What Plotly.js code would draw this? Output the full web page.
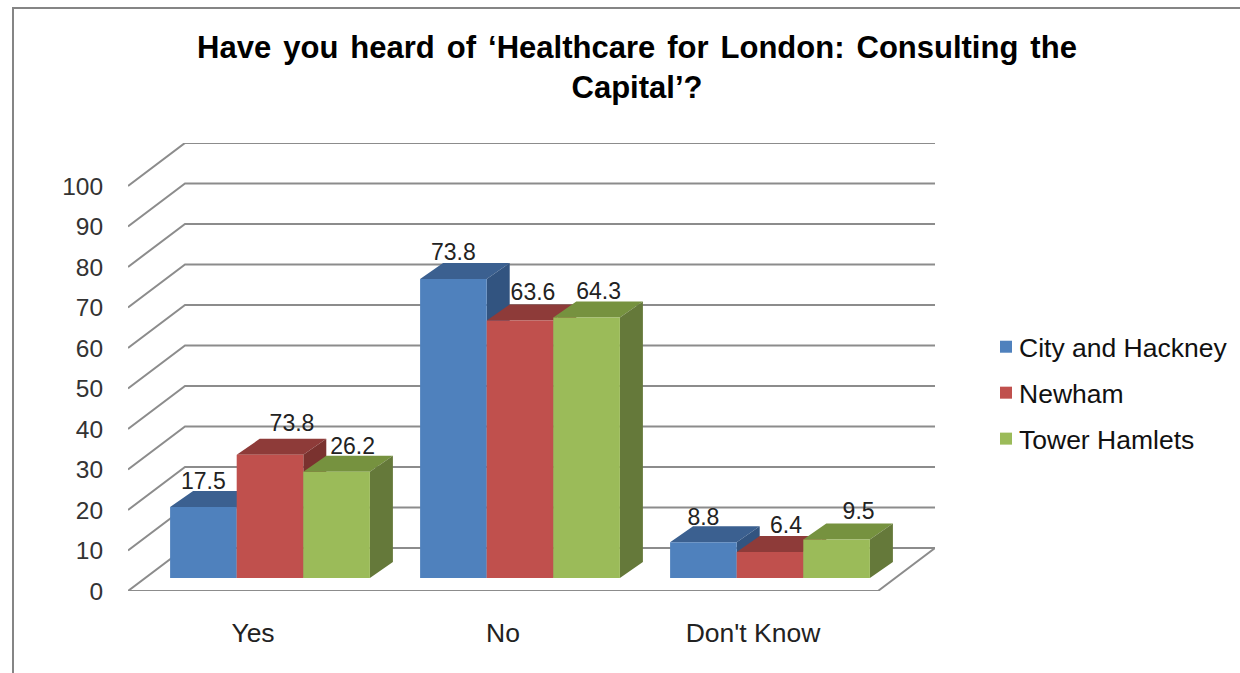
<!DOCTYPE html>
<html><head><meta charset="utf-8">
<script src="https://cdn.plot.ly/plotly-3.0.1.min.js"></script>
<style>html,body{margin:0;padding:0;background:#fff}#c{width:1240px;height:673px}
.gtitle{word-spacing:3.4px}
.legend .legendtext{transform:translateX(-7px)}
</style>
</head><body><div id="c"></div>
<script>
const categories = ["Yes", "No", "Don't Know"];
const seriesNames = ["City and Hackney", "Newham", "Tower Hamlets"];
const cityHackney = [17.5, 73.8, 8.8];
const newham = [30.4, 63.6, 6.4];
const towerHamlets = [26.2, 64.3, 9.5];
const cityLabels = ["17.5", "73.8", "8.8"];
const newhamLabels = ["73.8", "63.6", "6.4"];
const towerLabels = ["26.2", "64.3", "9.5"];
const yTicks = [0, 10, 20, 30, 40, 50, 60, 70, 80, 90, 100];

const frontColors = ["#4F81BD", "#C0504D", "#9BBB59"];
const topColors = ["#3B6090", "#8E3B39", "#76923F"];
const sideColors = ["#325480", "#7A322F", "#65793A"];

// geometry of the false-3D box, in axis units
const pxX = 1 / 250, pxY = 1 / 4.05;
const xRange = [-0.5, 2.728], yRange = [0, 110.6];
const wallDx = 57 * pxX, wallDy = 43 * pxY;
const barBase = 13 * pxY, barDx = 23 * pxX, barDy = 16 * pxY;
const barW = 66.6 * pxX, barShift = 17 * pxX;
const nudgeX = [[0, 0, 0], [22, 13, 16], [16, 12, 22]];
const nudgeY = [[26, 27, 26], [32, 29, 27], [26, 27, 29]];

const series = [cityHackney, newham, towerHamlets];
const labels = [cityLabels, newhamLabels, towerLabels];
const barX = (c, s) => c + barShift + (s - 1) * barW;
const traces = [];

// back wall and floor lines
const gx = [], gy = [];
yTicks.forEach(v => {
  gx.push(xRange[0], xRange[0] + wallDx, xRange[1], null);
  gy.push(v, v + wallDy, v + wallDy, null);
});
gx.push(xRange[0], 2.5, xRange[1], null);
gy.push(0, 0, wallDy, null);
traces.push({x: gx, y: gy, mode: "lines", line: {color: "#8C8C8C", width: 2}, hoverinfo: "skip", showlegend: false});

// top and side faces, left to right
series.forEach((vals, s) => {
  const tx = [], ty = [], sx = [], sy = [];
  vals.forEach((v, c) => {
    const l = barX(c, s) - barW / 2, r = barX(c, s) + barW / 2, t = barBase + v;
    tx.push(l, r, r + barDx, l + barDx, null);
    ty.push(t, t, t + barDy, t + barDy, null);
    sx.push(r, r + barDx, r + barDx, r, null);
    sy.push(t, t + barDy, barBase + barDy, barBase, null);
  });
  traces.push({x: tx, y: ty, mode: "lines", fill: "toself", fillcolor: topColors[s], line: {width: 0}, hoverinfo: "skip", showlegend: false});
  traces.push({x: sx, y: sy, mode: "lines", fill: "toself", fillcolor: sideColors[s], line: {width: 0}, hoverinfo: "skip", showlegend: false});
});

// front faces on the overlay, always in front of every top and side
series.forEach((vals, s) => {
  traces.push({type: "bar", name: seriesNames[s], legendgroup: seriesNames[s], xaxis: "x2", yaxis: "y2",
    x: vals.map((v, c) => barX(c, s)), y: vals, base: vals.map(() => barBase), width: barW,
    marker: {color: frontColors[s], line: {width: 0}}});
});
series.forEach((vals, s) => {
  traces.push({xaxis: "x2", yaxis: "y2", mode: "text", showlegend: false, hoverinfo: "skip",
    x: vals.map((v, c) => barX(c, s) + nudgeX[s][c] * pxX),
    y: vals.map((v, c) => barBase + v + nudgeY[s][c] * pxY - 14 * pxY),
    text: labels[s], textposition: "top center", cliponaxis: false,
    textfont: {family: "Liberation Sans", size: 23, color: "#222222"}});
});

const L = 128, R = 935, T = 143, B = 591;
const layout = {
  width: 1240, height: 673, showlegend: true, barmode: "overlay",
  paper_bgcolor: "#fff", plot_bgcolor: "rgba(0,0,0,0)",
  margin: {l: L, r: 1240 - R, t: T, b: 673 - B, pad: 0, autoexpand: false},
  title: {text: "Have you heard of ‘Healthcare for London: Consulting the<br>Capital’?",
    x: 637 / 1240, xanchor: "center", y: 0.914, yanchor: "middle",
    font: {family: "Liberation Sans", size: 31, color: "#000", weight: "bold"}},
  xaxis: {range: xRange, tickmode: "array", tickvals: [0, 1, 2], ticktext: categories,
    showgrid: false, zeroline: false, showline: false, ticks: "outside", ticklen: 18, tickcolor: "rgba(0,0,0,0)",
    tickfont: {family: "Liberation Sans", size: 26.5, color: "#222222"}},
  yaxis: {range: yRange, tickmode: "array", tickvals: yTicks,
    showgrid: false, zeroline: false, showline: false, ticks: "outside", ticklen: 19, tickcolor: "rgba(0,0,0,0)",
    tickfont: {family: "Liberation Sans", size: 24.5, color: "#333333"}},
  xaxis2: {range: xRange, overlaying: "x", visible: false},
  yaxis2: {range: yRange, overlaying: "y", visible: false},
  legend: {x: 986 / 807 - L / 807, xanchor: "left", y: (B - 323) / (B - T), yanchor: "top",
    bgcolor: "rgba(0,0,0,0)", borderwidth: 0, tracegroupgap: 8.5,
    font: {family: "Liberation Sans", size: 26.5, color: "#111"}},
  shapes: [{type: "rect", xref: "paper", yref: "paper", layer: "below",
    x0: (13 - L) / (R - L), x1: 2, y0: -1, y1: (B - 8) / (B - T),
    line: {color: "#858585", width: 2}, fillcolor: "rgba(0,0,0,0)"}]
};
Plotly.newPlot("c", traces, layout, {displayModeBar: false, responsive: false});
</script></body></html>
